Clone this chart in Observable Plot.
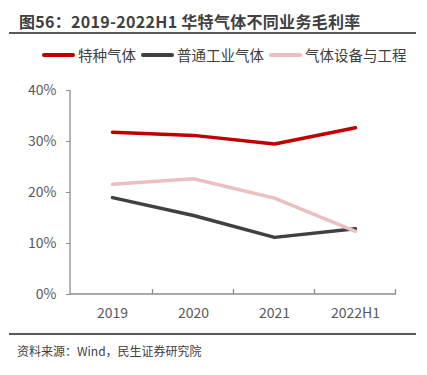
<!DOCTYPE html>
<html>
<head>
<meta charset="utf-8">
<script src="https://cdn.jsdelivr.net/npm/d3@7"></script>
<script src="https://cdn.jsdelivr.net/npm/@observablehq/plot@0.6"></script>
<style>
  html, body { margin: 0; padding: 0; background: #fff; }
  #wrap { position: relative; width: 427px; height: 375px; overflow: hidden; background: #fff;
          font-family: "Noto Sans CJK SC", "Noto Sans", sans-serif; }
  .title { position: absolute; left: 19px; top: 9px; font-size: 16px; letter-spacing: 0.3px; font-weight: bold; color: #404040; white-space: nowrap; }
  .hr { position: absolute; left: 9px; width: 407px; height: 2px; background: #595959; }
  #legend { position: absolute; left: 42px; top: 44px; display: flex; align-items: center; font-size: 14.5px; color: #404040; white-space: nowrap; }
  .item { display: flex; align-items: center; margin-right: 5px; }
  .sw { width: 33px; height: 4px; margin-right: 3px; border-radius: 2px; }
  #chart { position: absolute; left: 0; top: 70px; }
  .source { position: absolute; left: 17px; top: 342px; font-size: 12px; color: #404040; white-space: nowrap; }
</style>
</head>
<body>
<div id="wrap">
  <div class="title">图56：2019-2022H1 华特气体不同业务毛利率</div>
  <div class="hr" style="top:32px"></div>
  <div id="legend"></div>
  <div id="chart"></div>
  <div class="hr" style="top:333px"></div>
  <div class="source">资料来源：Wind，民生证券研究院</div>
</div>
<script>
const categories = ["2019", "2020", "2021", "2022H1"];
const seriesNames = ["特种气体", "普通工业气体", "气体设备与工程"];
const seriesColors = ["#C00000", "#404040", "#EBBFBF"];
const specialGas = [31.8, 31.2, 29.5, 32.7];
const industrialGas = [19.0, 15.5, 11.2, 12.9];
const equipment = [21.6, 22.7, 18.9, 12.4];
const yTicks = [0, 10, 20, 30, 40];

const seriesValues = [specialGas, industrialGas, equipment];
const data = [];
seriesNames.forEach((s, si) => {
  categories.forEach((c, ci) => data.push({series: s, category: c, value: seriesValues[si][ci]}));
});

// legend
const legend = document.getElementById("legend");
seriesNames.forEach((s, i) => {
  const it = document.createElement("div");
  it.className = "item";
  const sw = document.createElement("div");
  sw.className = "sw";
  sw.style.background = seriesColors[i];
  const t = document.createElement("span");
  t.textContent = s;
  it.appendChild(sw); it.appendChild(t);
  legend.appendChild(it);
});

const axisColor = "#8c8c8c";
const frameMark = (index, scales, values, dims) => {
  const {x, y} = scales;
  const g = d3.create("svg:g").attr("stroke", axisColor).attr("stroke-width", 1.3).attr("fill", "none");
  const left = dims.marginLeft;
  const right = dims.width - dims.marginRight;
  const y0 = y(0);
  g.append("line").attr("x1", left).attr("x2", left).attr("y1", y(40)).attr("y2", y0);
  g.append("line").attr("x1", left).attr("x2", right).attr("y1", y0).attr("y2", y0);
  const step = x(categories[1]) - x(categories[0]);
  categories.forEach(c => {
    const bx = x(c) + step / 2;
    g.append("line").attr("x1", bx).attr("x2", bx).attr("y1", y0).attr("y2", y0 - 5);
  });
  return g.node();
};

const chart = Plot.plot({
  width: 427,
  height: 262,
  marginTop: 20,
  marginLeft: 70,
  marginRight: 31,
  marginBottom: 38,
  style: {fontFamily: '"Noto Sans CJK SC", "Noto Sans", sans-serif', fontSize: "14px", color: "#595959", background: "#fff"},
  x: {type: "point", domain: categories, padding: 0.5},
  y: {domain: [0, 40]},
  color: {domain: seriesNames, range: seriesColors},
  marks: [
    Plot.axisY({ticks: yTicks, tickSize: 4, tickPadding: 10, tickFormat: d => d + "%", label: null, stroke: axisColor, fill: "#595959", fontSize: 14}),
    Plot.axisX({tickSize: 0, tickPadding: 14, label: null, fill: "#595959", fontSize: 14}),
    frameMark,
    Plot.lineY(data, {x: "category", y: "value", z: "series", stroke: "series", strokeWidth: 3.5, strokeLinejoin: "round", strokeLinecap: "round"})
  ]
});
document.getElementById("chart").appendChild(chart);
</script>
</body>
</html>
